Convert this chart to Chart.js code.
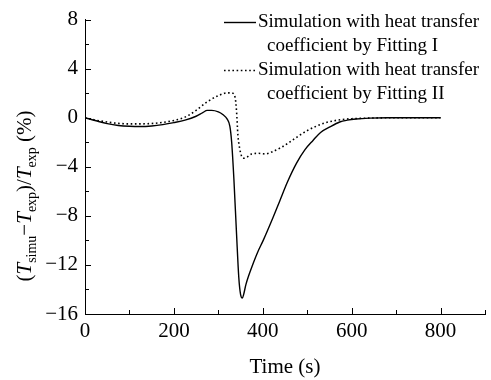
<!DOCTYPE html>
<html>
<head>
<meta charset="utf-8">
<script src="https://cdn.jsdelivr.net/npm/chart.js@4/dist/chart.umd.min.js"></script>
<style>
  html, body { margin: 0; padding: 0; background: #fff; }
  #wrap { width: 491px; height: 380px; }
</style>
</head>
<body>
<div id="wrap"><canvas id="errChart" width="491" height="380"></canvas></div>
<script>
// Fitting I (solid)
const timeFit1 = [0, 25, 50, 75, 100, 125, 150, 175, 200, 225, 250, 265, 275, 285, 300, 310, 320, 326, 330, 335, 341, 346, 350, 354, 357, 362, 368, 376, 388, 401, 420, 438, 456, 476, 495, 513, 530, 551, 573, 590, 610, 640, 680, 740, 800];
const errFit1 = [0, -0.25, -0.48, -0.63, -0.7, -0.72, -0.67, -0.56, -0.4, -0.2, 0.12, 0.42, 0.6, 0.6, 0.48, 0.26, -0.12, -0.7, -2.0, -5.0, -9.5, -13.0, -14.4, -14.7, -14.4, -13.6, -12.9, -12.1, -11.0, -10.0, -8.4, -6.8, -5.2, -3.7, -2.6, -1.85, -1.2, -0.75, -0.35, -0.2, -0.1, -0.03, 0, 0, 0];

// Fitting II (dotted)
const timeFit2 = [0, 25, 50, 75, 100, 125, 150, 175, 200, 225, 250, 275, 300, 320, 332, 338, 341, 344, 348, 352, 358, 365, 375, 390, 405, 420, 440, 460, 480, 500, 520, 540, 560, 580, 600, 640, 700, 800];
const errFit2 = [0, -0.2, -0.35, -0.46, -0.5, -0.5, -0.47, -0.38, -0.22, 0.05, 0.6, 1.3, 1.8, 2.03, 2.0, 1.6, 0.5, -1.4, -2.5, -3.1, -3.3, -3.2, -2.95, -2.9, -2.95, -2.8, -2.45, -2.0, -1.5, -1.05, -0.7, -0.42, -0.25, -0.14, -0.08, -0.03, 0, 0];

const legendLines = [
    ['Simulation with heat transfer', 'coefficient by Fitting I'],
    ['Simulation with heat transfer', 'coefficient by Fitting II']
];

const serif = '"Liberation Serif", "DejaVu Serif", serif';

function points(xs, ys) {
    return xs.map((x, i) => ({ x: x, y: ys[i] }));
}

// ticks pointing inward + legend + rotated y title with subscripts
const decorPlugin = {
    id: 'decor',
    afterDraw(chart) {
        const c = chart.ctx;
        const xs = chart.scales.x, ys = chart.scales.y;
        const area = chart.chartArea;
        c.save();
        c.strokeStyle = '#000';
        c.lineWidth = 1;
        c.beginPath();
        xs.ticks.forEach(t => {
            const px = Math.round(xs.getPixelForValue(t.value)) + 0.5;
            const len = t.value % 200 === 0 ? 6 : 4;
            c.moveTo(px, area.bottom);
            c.lineTo(px, area.bottom - len);
        });
        ys.ticks.forEach(t => {
            const py = Math.round(ys.getPixelForValue(t.value)) + 0.5;
            const len = t.value % 4 === 0 ? 6 : 4;
            c.moveTo(area.left, py);
            c.lineTo(area.left + len, py);
        });
        c.stroke();

        // legend
        c.fillStyle = '#000';
        c.font = '19px ' + serif;
        c.textBaseline = 'middle';
        c.textAlign = 'left';
        chart.data.datasets.forEach((ds, i) => {
            const y0 = 22 + i * 48;
            c.save();
            c.lineWidth = ds.borderWidth;
            c.setLineDash(ds.borderDash || []);
            c.beginPath();
            c.moveTo(224, y0 + 0.5);
            c.lineTo(256, y0 + 0.5);
            c.stroke();
            c.restore();
            c.fillText(legendLines[i][0], 258, y0);
            c.fillText(legendLines[i][1], 267, y0 + 24);
        });

        // y title: (T_simu − T_exp)/T_exp (%)
        const big = 21, small = 14;
        const parts = [
            { t: '(', it: false, sub: false },
            { t: 'T', it: true, sub: false },
            { t: 'simu', it: false, sub: true },
            { t: '\u2212', it: false, sub: false },
            { t: 'T', it: true, sub: false },
            { t: 'exp', it: false, sub: true },
            { t: ')/', it: false, sub: false },
            { t: 'T', it: true, sub: false },
            { t: 'exp', it: false, sub: true },
            { t: ' (%)', it: false, sub: false }
        ];
        const fontOf = p => (p.it ? 'italic ' : '') + (p.sub ? small : big) + 'px ' + serif;
        let total = 0;
        parts.forEach(p => { c.font = fontOf(p); p.w = c.measureText(p.t).width; total += p.w; });
        c.translate(31, 196);
        c.rotate(-Math.PI / 2);
        c.textBaseline = 'alphabetic';
        let x = -total / 2;
        parts.forEach(p => {
            c.font = fontOf(p);
            c.fillText(p.t, x, p.sub ? 5 : 0);
            x += p.w;
        });
        c.restore();
    }
};

new Chart(document.getElementById('errChart').getContext('2d'), {
    type: 'line',
    data: {
        datasets: [
            {
                label: 'Fitting I',
                data: points(timeFit1, errFit1),
                borderColor: '#000',
                borderWidth: 1.4,
                pointRadius: 0,
                fill: false,
                cubicInterpolationMode: 'monotone'
            },
            {
                label: 'Fitting II',
                data: points(timeFit2, errFit2),
                borderColor: '#000',
                borderWidth: 1.6,
                borderDash: [1.6, 2.6],
                pointRadius: 0,
                fill: false,
                cubicInterpolationMode: 'monotone'
            }
        ]
    },
    options: {
        responsive: false,
        animation: false,
        layout: { padding: { top: 16, right: 6, bottom: 0, left: 0 } },
        plugins: {
            legend: { display: false },
            tooltip: { enabled: false }
        },
        scales: {
            x: {
                type: 'linear',
                min: 0,
                max: 900,
                grid: { display: false, drawTicks: false },
                border: { display: true, color: '#000', width: 1 },
                ticks: {
                    stepSize: 100,
                    padding: 5,
                    color: '#000',
                    maxRotation: 0,
                    autoSkip: false,
                    font: { family: serif, size: 21 },
                    callback: v => (v % 200 === 0 && v <= 800 ? String(v) : '')
                },
                title: {
                    display: true,
                    text: 'Time (s)',
                    color: '#000',
                    font: { family: serif, size: 21 },
                    padding: 0
                },
                afterFit: s => { s.height = 66; }
            },
            y: {
                min: -16,
                max: 8,
                grid: { display: false, drawTicks: false },
                border: { display: true, color: '#000', width: 1 },
                ticks: {
                    stepSize: 2,
                    padding: 7,
                    color: '#000',
                    autoSkip: false,
                    font: { family: serif, size: 21 },
                    callback: v => (v % 4 === 0 ? String(v).replace('-', '\u2212') : '')
                },
                afterFit: s => { s.width = 85; }
            }
        }
    },
    plugins: [decorPlugin]
});
</script>
</body>
</html>
